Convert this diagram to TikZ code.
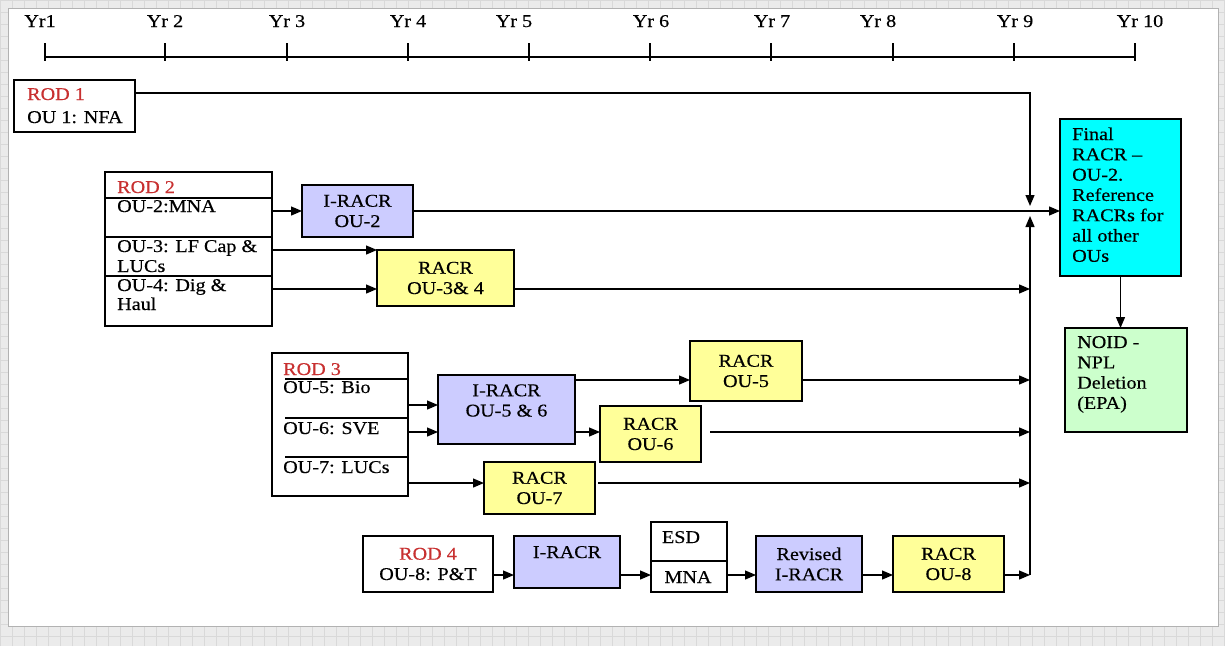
\documentclass[tikz,border=0pt]{standalone}
\usepackage{fontspec}
\setmainfont{Liberation Serif}[FakeStretch=1.12,FakeBold=0.4]
\usetikzlibrary{arrows.meta}
\definecolor{rodred}{HTML}{C83030}
\definecolor{lav}{HTML}{CCCCFF}
\definecolor{yel}{HTML}{FFFF99}
\definecolor{cyn}{HTML}{00FFFF}
\definecolor{grn}{HTML}{CCFFCC}
\definecolor{bggray}{HTML}{EBEBEB}
\definecolor{gridgray}{HTML}{D9D9D9}
\begin{document}
\begin{tikzpicture}[x=1pt,y=-1pt,
  font=\fontsize{18}{20.3}\selectfont,
  box/.style={draw=black, line width=1.3pt, anchor=north west, inner sep=0pt, outer sep=0pt, align=center},
  arr/.style={line width=1.3pt, -{Triangle[length=11pt,width=9pt]}},
  ln/.style={line width=1.3pt},
  lbl/.style={anchor=base west, inner sep=0pt},
  ctr/.style={anchor=base, inner sep=0pt}]
\useasboundingbox (0,0) rectangle (1225,646);
% background
\fill[bggray] (0,0) rectangle (1225,646);
\draw[gridgray, line width=0.6pt, step=12pt] (0,0) grid (1225,646);
\fill[white] (8,8) rectangle (1218,626);
\draw[gray!60, line width=1pt] (8,8) rectangle (1218,626);
% timeline
\draw[ln] (45,57) -- (1135,57);
\foreach \x in {45,165,287,408,529,650,771,893,1014,1135} \draw[ln] (\x,43) -- (\x,61);
\foreach \x/\t [count=\i] in {40/Yr1,165/Yr 2,287/Yr 3,408/Yr 4,514/Yr 5,651/Yr 6,772/Yr 7,878/Yr 8,1015/Yr 9,1140/Yr 10}
  \node[ctr] (yr\i) at (\x,27) {\t};
% row coordinates
\coordinate (coll) at (1030,0);
\coordinate (r1y) at (0,93);
\coordinate (jn) at (1030,211);
\coordinate (row3) at (0,250);
\coordinate (row4) at (0,289);
\coordinate (row5) at (0,380);
\coordinate (row56) at (0,405);
\coordinate (row6) at (0,432);
\coordinate (row7) at (0,483);
\coordinate (row8) at (0,575);
% ROD 1
\node[box, minimum width=121pt, minimum height=52pt] (rod1) at (14,80) {};
\node[lbl, text=rodred] (rod1a) at (27,100) {ROD 1};
\node[lbl] (rod1b) at (27,123) {OU 1: NFA};
% Final / NOID
\node[box, fill=cyn, minimum width=121pt, minimum height=157pt] (final) at (1060,119) {};
\foreach \t [count=\i from 0] in {Final,RACR –,OU-2.,Reference,RACRs for,all other,OUs}
  \node[lbl] (fin\i) at (1072,140+20.3*\i) {\t};
\node[box, fill=grn, minimum width=122pt, minimum height=104pt] (noid) at (1065,328) {};
\foreach \t [count=\i from 0] in {NOID -,NPL,Deletion,(EPA)}
  \node[lbl] (noid\i) at (1077,348+20.3*\i) {\t};
% ROD 2
\node[box, minimum width=167pt, minimum height=154pt] (rod2) at (105,172) {};
\foreach \y in {198,237,276} \draw[ln] (rod2.west |- 0,\y) -- (rod2.east |- 0,\y);
\node[lbl, text=rodred] (rod2a) at (117,193) {ROD 2};
\node[lbl] (rod2b) at (117,212) {OU-2:MNA};
\node[lbl] (rod2c) at (117,252) {OU-3: LF Cap \&};
\node[lbl] (rod2d) at (117,272) {LUCs};
\node[lbl] (rod2e) at (117,291) {OU-4: Dig \&};
\node[lbl] (rod2f) at (117,310) {Haul};
\node[box, fill=lav, minimum width=111pt, minimum height=52pt] (ir2) at (302,185) {I-RACR\\OU-2};
\node[box, fill=yel, minimum width=137pt, minimum height=56pt] (r34) at (377,250) {RACR\\OU-3\& 4};
% ROD 3
\node[box, minimum width=136pt, minimum height=143pt] (rod3) at (272,353) {};
\foreach \y in {379,418,457} \draw[ln] (285,\y) -- (rod3.east |- 0,\y);
\node[lbl, text=rodred] (rod3a) at (283,375) {ROD 3};
\node[lbl] (rod3b) at (283,393) {OU-5: Bio};
\node[lbl] (rod3c) at (283,434) {OU-6: SVE};
\node[lbl] (rod3d) at (283,473) {OU-7: LUCs};
\node[box, fill=lav, minimum width=137pt, minimum height=69pt] (ir56) at (438,375) {};
\node[align=center, inner sep=0pt] (ir56t) at ([yshift=9pt]ir56.center) {I-RACR\\OU-5 \& 6};
\node[box, fill=yel, minimum width=112pt, minimum height=60pt] (r5) at (690,341) {RACR\\OU-5};
\node[box, fill=yel, minimum width=101pt, minimum height=56pt] (r6) at (600,406) {RACR\\OU-6};
\node[box, fill=yel, minimum width=111pt, minimum height=52pt] (r7) at (484,462) {RACR\\OU-7};
% ROD 4 row
\node[box, minimum width=130pt, minimum height=56pt] (rod4) at (363,536) {\textcolor{rodred}{ROD 4}\\OU-8: P\&T};
\node[box, fill=lav, minimum width=106pt, minimum height=52pt] (ir8) at (514,536) {};
\node[ctr] (ir8t) at (567,558) {I-RACR};
\node[box, minimum width=76pt, minimum height=70pt] (esd) at (651,522) {};
\draw[ln] (esd.west |- 0,561) -- (esd.east |- 0,561);
\node[ctr] (esdt) at (681,543) {ESD};
\node[ctr] (mnat) at (688,583) {MNA};
\node[box, fill=lav, minimum width=106pt, minimum height=56pt] (rev) at (756,536) {Revised\\I-RACR};
\node[box, fill=yel, minimum width=111pt, minimum height=56pt] (r8) at (893,536) {RACR\\OU-8};
% connectors
\draw[arr] (rod1.east |- r1y) -| ([yshift=5pt]jn);
\draw[arr] (coll |- row8) -- ([yshift=-5pt]jn);
\draw[arr] (ir2.east) -- (final.west |- ir2.east);
\draw[arr] (final.south) -- (final.south |- noid.north);
\draw[arr] (rod2.east |- ir2.west) -- (ir2.west);
\draw[arr] (rod2.east |- row3) -- (r34.west |- row3);
\draw[arr] (rod2.east |- row4) -- (r34.west |- row4);
\draw[arr] (r34.east |- row4) -- (coll |- row4);
\draw[arr] (rod3.east |- row56) -- (ir56.west |- row56);
\draw[arr] (rod3.east |- row6) -- (ir56.west |- row6);
\draw[arr] (ir56.east |- row5) -- (r5.west |- row5);
\draw[arr] (ir56.east |- row6) -- (r6.west |- row6);
\draw[arr] (r5.east |- row5) -- (coll |- row5);
\draw[arr, shorten <=9pt] (r6.east |- row6) -- (coll |- row6);
\draw[arr] (rod3.east |- row7) -- (r7.west |- row7);
\draw[arr, shorten <=3pt] (r7.east |- row7) -- (coll |- row7);
\draw[arr] (rod4.east |- row8) -- (ir8.west |- row8);
\draw[arr] (ir8.east |- row8) -- (esd.west |- row8);
\draw[arr] (esd.east |- row8) -- (rev.west |- row8);
\draw[arr] (rev.east |- row8) -- (r8.west |- row8);
\draw[arr] (r8.east |- row8) -- (coll |- row8);
\end{tikzpicture}
\end{document}
